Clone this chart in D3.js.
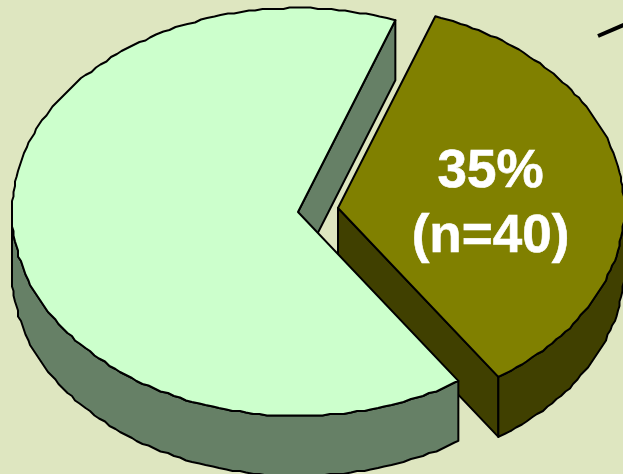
<!DOCTYPE html>
<html>
<head>
<meta charset="utf-8">
<script src="https://cdn.jsdelivr.net/npm/d3@7"></script>
<style>
  html, body { margin: 0; padding: 0; background: #dee6c0; }
  svg { display: block; }
</style>
</head>
<body>
<script>
// Share of each group, clockwise from the olive slice
const shares = [35, 65];
const counts = [40, null];
const topColors = ["#808000", "#ccffcc"];
const sideColors = ["#404000", "#668066"];

const width = 623, height = 474;
const rx = 286, ry = 204, depth = 60;
const rotation = 19.9 * Math.PI / 180;
const centers = [[338, 208], [298, 212]];

const svg = d3.select("body").append("svg")
  .attr("width", width).attr("height", height);

svg.append("rect").attr("width", width).attr("height", height).attr("fill", "#dee6c0");

const slices = d3.pie().sort(null).startAngle(rotation).endAngle(rotation + 2 * Math.PI)(shares);

// The rim is sampled at fixed angles and plotted on a coarse pixel grid,
// which gives the outline its slightly stepped look
const grid = 1.5;
const step = 1.4 * Math.PI / 180;
const snap = v => Math.round(v / grid) * grid;
const rimPoint = (a, c) => [c[0] + rx * Math.sin(a), c[1] - ry * Math.cos(a)];
const rim = (a0, a1, c) => {
  const inner = d3.range(Math.ceil(a0 / step + 0.5), Math.floor(a1 / step - 0.5) + 1)
    .map(k => rimPoint(k * step, c).map(snap));
  return [rimPoint(a0, c), ...inner, rimPoint(a1, c)];
};
const lowered = pts => pts.map(([x, y]) => [x, y + depth]);

const pathLine = d3.line();
const outlined = (points, fill) => svg.append("path")
  .attr("d", pathLine(points) + "Z")
  .attr("fill", fill)
  .attr("stroke", "#000")
  .attr("stroke-width", 2)
  .attr("stroke-linejoin", "round");

// Flat cut face between the centre and a rim point
const cutFace = (i, a) => {
  const c = centers[i], e = rimPoint(a, c);
  outlined([c, e, ...lowered([e, c])], sideColors[i]);
};

// Curved wall: only the near half of the rim is visible
const curvedWall = i => {
  const c = centers[i], s = slices[i];
  const edge = rim(Math.max(s.startAngle, Math.PI / 2), Math.min(s.endAngle, 3 * Math.PI / 2), c);
  outlined([...edge, ...lowered(edge).reverse()], sideColors[i]);
};

const topFace = i => {
  const c = centers[i], s = slices[i];
  outlined([c, ...rim(s.startAngle, s.endAngle, c)], topColors[i]);
};

// Back to front: olive slice, then the large slice over it
cutFace(0, slices[0].endAngle);
curvedWall(0);
topFace(0);
cutFace(1, slices[1].endAngle);
curvedWall(1);
topFace(1);

// Value label on the olive slice
const label = svg.append("g")
  .attr("font-family", "'Liberation Sans', Arial, sans-serif")
  .attr("font-weight", "bold").attr("font-size", 53)
  .attr("fill", "#fff").attr("stroke", "#fff").attr("stroke-width", 0.6)
  .attr("text-anchor", "middle");
label.append("text").attr("x", 490.5).attr("y", 187).text(`${shares[0]}%`);
label.append("text").attr("x", 490.5).attr("y", 252).text(`(n=${counts[0]})`);

// Start of a leader line running off the top right corner
svg.append("line").attr("x1", 598).attr("y1", 36).attr("x2", 640).attr("y2", 18)
  .attr("stroke", "#000").attr("stroke-width", 4);
</script>
</body>
</html>
